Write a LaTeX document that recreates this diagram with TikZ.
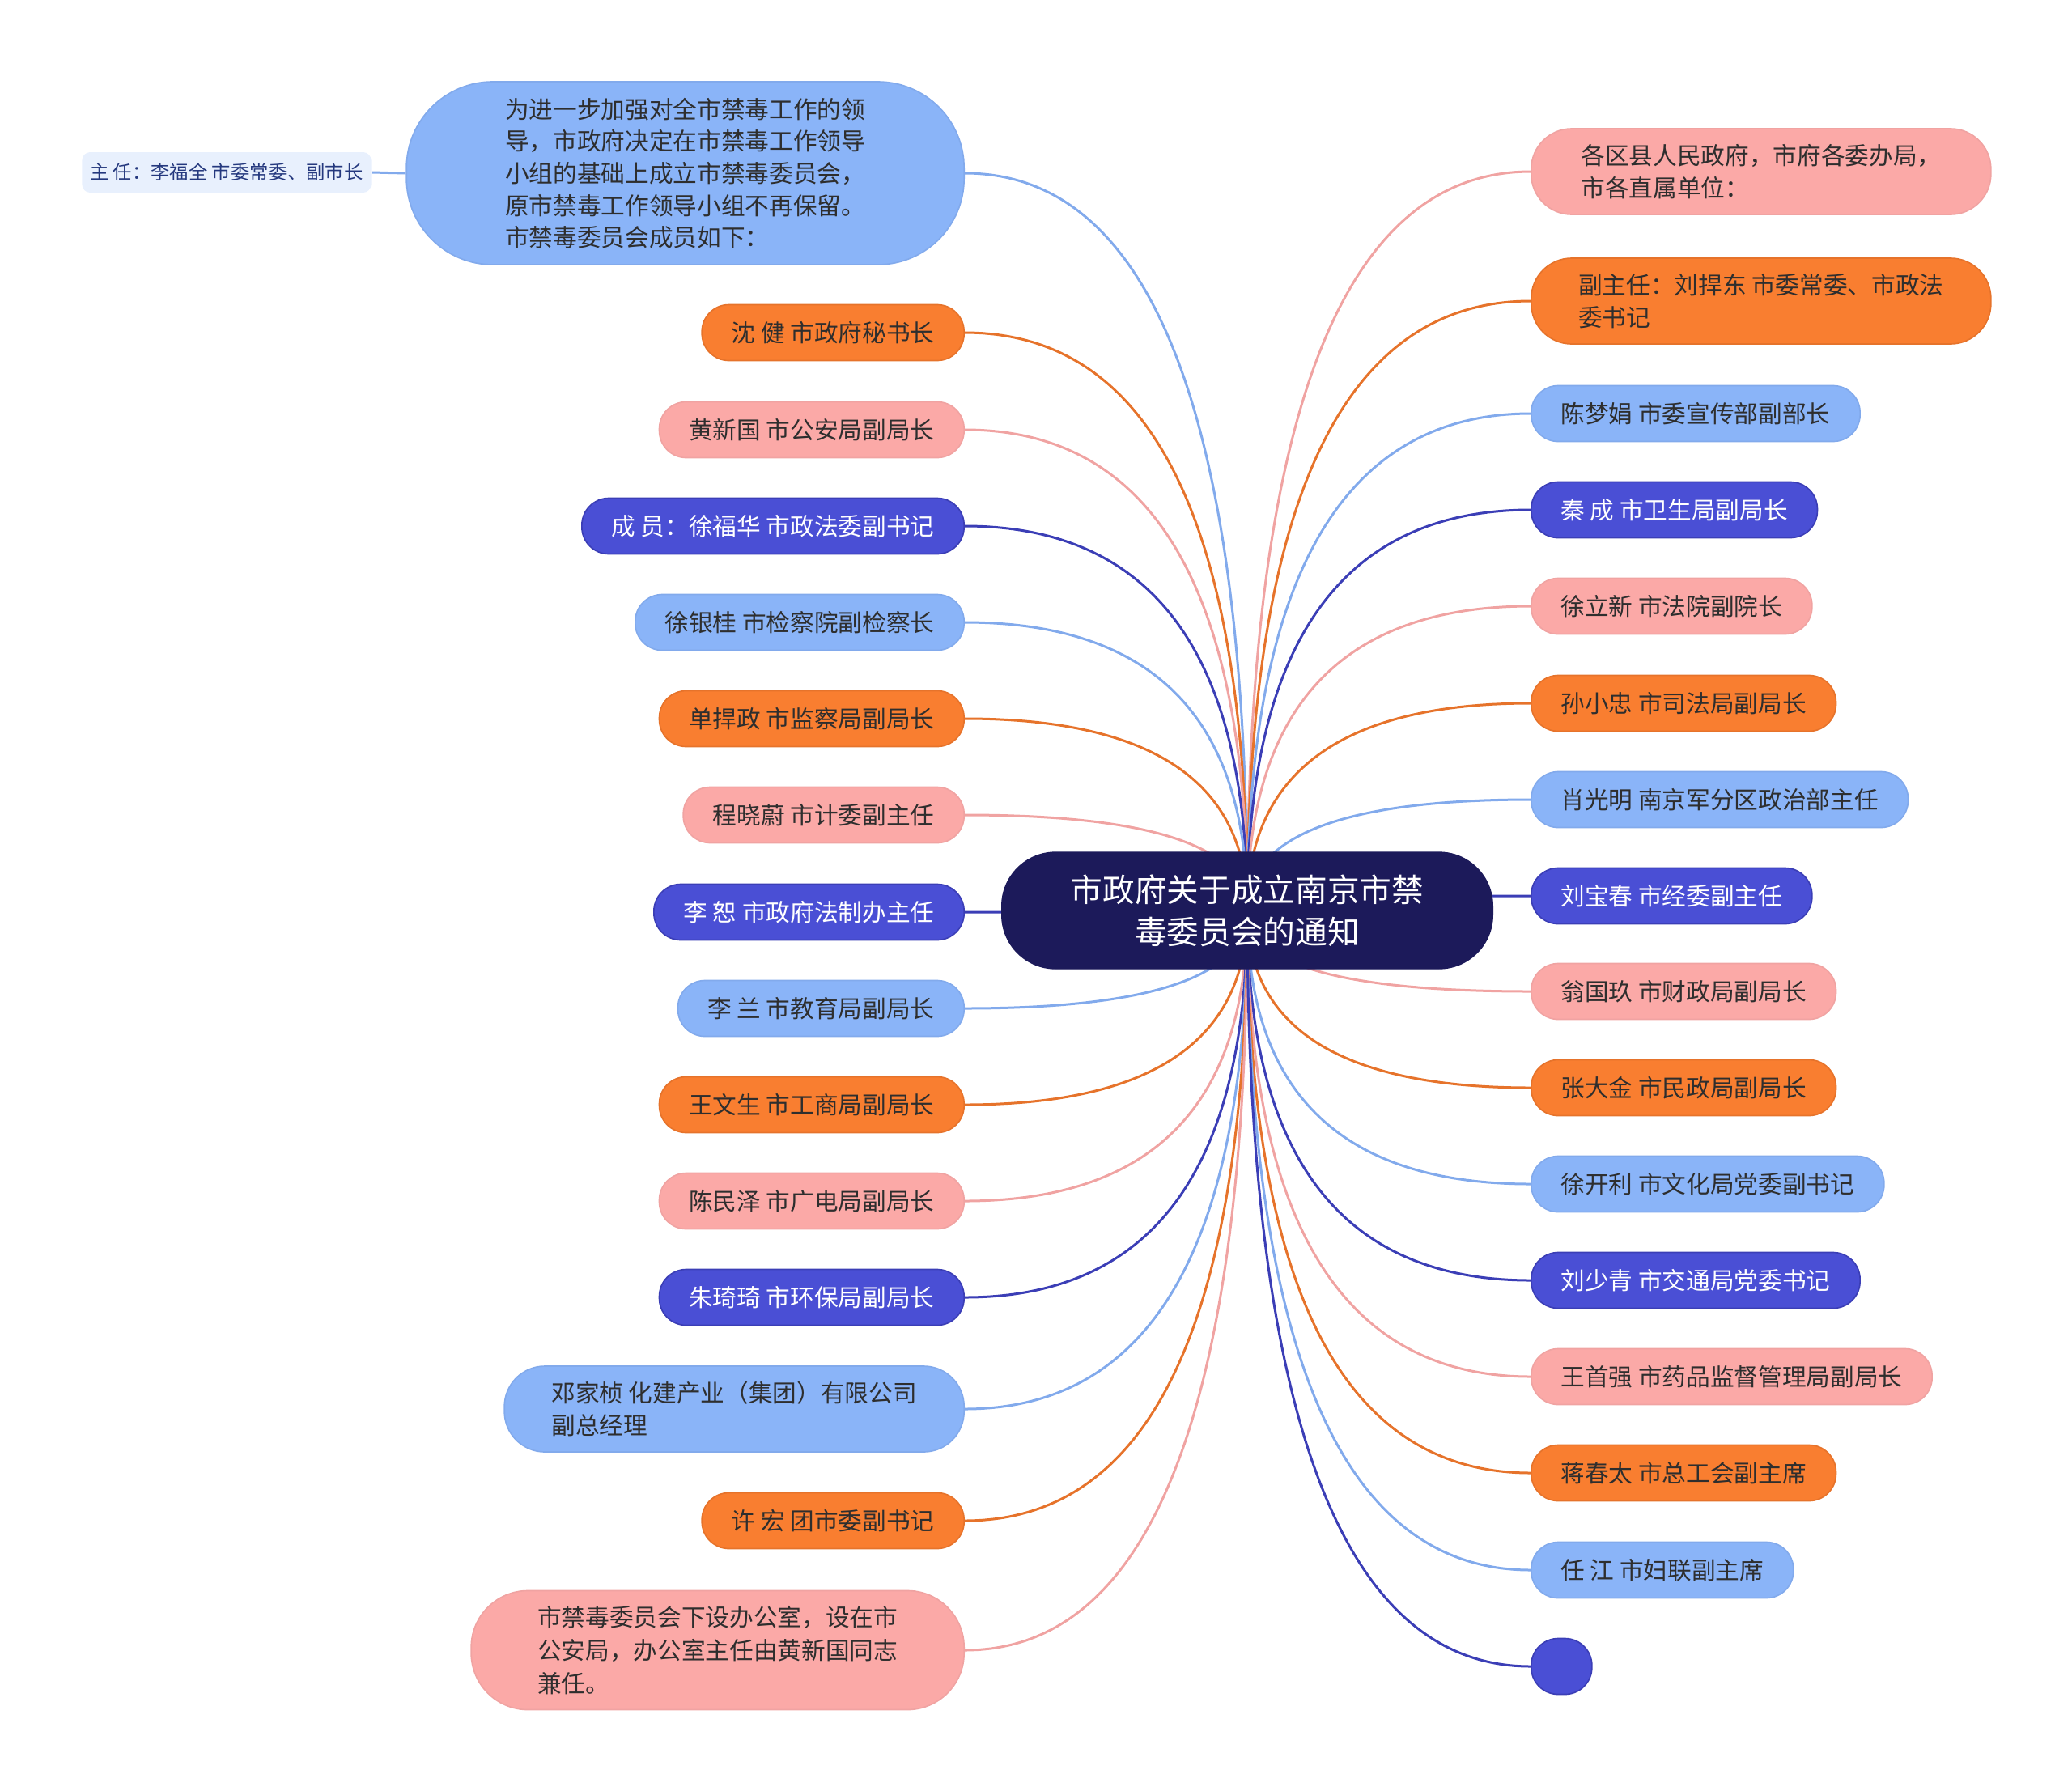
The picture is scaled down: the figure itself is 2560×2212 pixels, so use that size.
\documentclass[tikz,border=0pt]{standalone}
\usepackage{fontspec}
\setmainfont{Noto Sans CJK SC}
\usepackage{tikz}
\usetikzlibrary{calc,backgrounds}

\definecolor{lbfill}{HTML}{8AB4F8}
\definecolor{lbline}{HTML}{82AAEC}
\definecolor{orfill}{HTML}{F97E30}
\definecolor{orline}{HTML}{E6732B}
\definecolor{pkfill}{HTML}{FBA9A7}
\definecolor{pkline}{HTML}{F0A3A2}
\definecolor{dbfill}{HTML}{4A4FD5}
\definecolor{dbline}{HTML}{3B3EB6}
\definecolor{ctrfill}{HTML}{1C1A5A}
\definecolor{leaftext}{HTML}{2E2E2E}
\definecolor{subfill}{HTML}{E8F0FD}
\definecolor{subtext}{HTML}{24387E}

\tikzset{
  leaf/.style={rounded corners=10pt, minimum height=20.7pt, inner xsep=11pt, inner ysep=2pt,
    font=\fontsize{8.9}{12.2}\selectfont, text=leaftext, line width=0.5pt},
  twoline/.style={leaf, align=left, minimum width=170.4pt, minimum height=31.8pt, rounded corners=15pt},
  bluebox/.style={leaf, fill=lbfill, draw=lbline},
  orangebox/.style={leaf, fill=orfill, draw=orline},
  pinkbox/.style={leaf, fill=pkfill, draw=pkline},
  navybox/.style={leaf, fill=dbfill, draw=dbline, text=white},
  twig/.style={line width=0.9pt, to path={.. controls ($(\tikztostart)!0.667!(\tikztostart |- \tikztotarget)$)
    and ($(\tikztotarget)!0.667!(\tikztostart |- \tikztotarget)$) .. (\tikztotarget)}},
}

\begin{document}
\begin{tikzpicture}[x=0.3pt,y=0.3pt,yscale=-1,xscale=1]
  \useasboundingbox (0,0) rectangle (2560,2212);
  % root
  \node (ctr) [rounded corners=20pt, fill=ctrfill, draw=ctrfill, text=white, align=center,
    minimum width=182pt, minimum height=43.2pt, font=\fontsize{11.9}{15.7}\selectfont]
    at (1541,1125) {市政府关于成立南京市禁\\毒委员会的通知};

  % left branch
  \node (intro) [bluebox, align=left, minimum width=206.7pt, minimum height=67.8pt, rounded corners=32pt,
    font=\fontsize{8.9}{11.9}\selectfont, anchor=east] at (1192,214)
    {为进一步加强对全市禁毒工作的领\\导，市政府决定在市禁毒工作领导\\小组的基础上成立市禁毒委员会，\\原市禁毒工作领导小组不再保留。\\市禁毒委员会成员如下：};
  \node (zhuren) [rounded corners=3pt, fill=subfill, text=subtext, inner xsep=3pt, minimum height=15pt,
    font=\fontsize{7}{8}\selectfont] at (280,213) {主 任：李福全 市委常委、副市长};
  \node (shen) [orangebox, anchor=east] at (1192,411) {沈 健 市政府秘书长};
  \node (huang) [pinkbox, anchor=east] at (1192,531) {黄新国 市公安局副局长};
  \node (xufh) [navybox, anchor=east] at (1192,650) {成 员：徐福华 市政法委副书记};
  \node (xuyg) [bluebox, anchor=east] at (1192,769) {徐银桂 市检察院副检察长};
  \node (shan) [orangebox, anchor=east] at (1192,888) {单捍政 市监察局副局长};
  \node (cheng) [pinkbox, anchor=east] at (1192,1007) {程晓蔚 市计委副主任};
  \node (lishu) [navybox, anchor=east] at (1192,1127) {李 恕 市政府法制办主任};
  \node (lilan) [bluebox, anchor=east] at (1192,1246) {李 兰 市教育局副局长};
  \node (wangws) [orangebox, anchor=east] at (1192,1365) {王文生 市工商局副局长};
  \node (chenmz) [pinkbox, anchor=east] at (1192,1484) {陈民泽 市广电局副局长};
  \node (zhu) [navybox, anchor=east] at (1192,1603) {朱琦琦 市环保局副局长};
  \node (deng) [bluebox, twoline, anchor=east] at (1192,1741) {邓家桢 化建产业（集团）有限公司\\副总经理};
  \node (xuhong) [orangebox, anchor=east] at (1192,1879) {许 宏 团市委副书记};
  \node (office) [pinkbox, twoline, minimum width=182.7pt, minimum height=44.1pt, rounded corners=21pt,
    anchor=east] at (1192,2039) {市禁毒委员会下设办公室，设在市\\公安局，办公室主任由黄新国同志\\兼任。};

  % right branch
  \node (units) [pinkbox, twoline, anchor=west] at (1891,212) {各区县人民政府，市府各委办局，\\市各直属单位：};
  \node (fuzhuren) [orangebox, twoline, anchor=west] at (1891,372) {副主任：刘捍东 市委常委、市政法\\委书记};
  \node (chenmj) [bluebox, anchor=west] at (1891,511) {陈梦娟 市委宣传部副部长};
  \node (qin) [navybox, anchor=west] at (1891,630) {秦 成 市卫生局副局长};
  \node (xulx) [pinkbox, anchor=west] at (1891,749) {徐立新 市法院副院长};
  \node (sun) [orangebox, anchor=west] at (1891,869) {孙小忠 市司法局副局长};
  \node (xiao) [bluebox, anchor=west] at (1891,988) {肖光明 南京军分区政治部主任};
  \node (liubc) [navybox, anchor=west] at (1891,1107) {刘宝春 市经委副主任};
  \node (weng) [pinkbox, anchor=west] at (1891,1225) {翁国玖 市财政局副局长};
  \node (zhang) [orangebox, anchor=west] at (1891,1344) {张大金 市民政局副局长};
  \node (xukl) [bluebox, anchor=west] at (1891,1463) {徐开利 市文化局党委副书记};
  \node (liusq) [navybox, anchor=west] at (1891,1582) {刘少青 市交通局党委书记};
  \node (wangsq) [pinkbox, anchor=west] at (1891,1701) {王首强 市药品监督管理局副局长};
  \node (jiang) [orangebox, anchor=west] at (1891,1820) {蒋春太 市总工会副主席};
  \node (renj) [bluebox, anchor=west] at (1891,1940) {任 江 市妇联副主席};
  \node (blank) [navybox, inner sep=0pt, minimum width=22.5pt, anchor=west] at (1891,2059) {};

  % connectors
  \begin{scope}[on background layer]
    \foreach \n/\c in {intro/lbline, shen/orline, huang/pkline, xufh/dbline, xuyg/lbline, shan/orline,
        cheng/pkline, lishu/dbline, lilan/lbline, wangws/orline, chenmz/pkline, zhu/dbline, deng/lbline,
        xuhong/orline, office/pkline}
      \draw[twig, \c] (ctr.center) to (\n.east);
    \foreach \n/\c in {units/pkline, fuzhuren/orline, chenmj/lbline, qin/dbline, xulx/pkline, sun/orline,
        xiao/lbline, liubc/dbline, weng/pkline, zhang/orline, xukl/lbline, liusq/dbline, wangsq/pkline,
        jiang/orline, renj/lbline, blank/dbline}
      \draw[twig, \c] (ctr.center) to (\n.west);
    \draw[lbline, line width=0.9pt] (intro.west) -- (zhuren.east);
  \end{scope}
\end{tikzpicture}
\end{document}
